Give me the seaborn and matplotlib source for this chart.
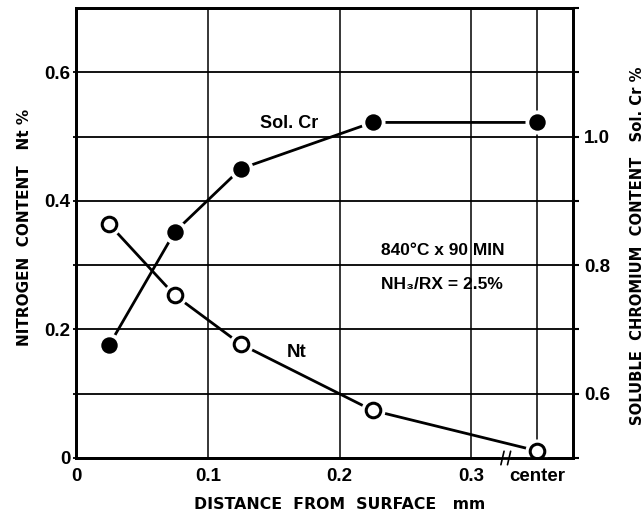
import matplotlib
matplotlib.use("Agg")
import matplotlib.pyplot as plt
import seaborn as sns
import pandas as pd

# ---- data ----
distance = [0.025, 0.075, 0.125, 0.225, 0.35]
nitrogen = [0.364, 0.253, 0.177, 0.074, 0.011]
sol_cr = [0.675, 0.852, 0.95, 1.022, 1.022]

x_ticks = [0, 0.1, 0.2, 0.3, 0.35]
x_tick_labels = ["0", "0.1", "0.2", "0.3", "center"]
x_minor = [0.05, 0.15, 0.25]
left_ticks = [0, 0.2, 0.4, 0.6]
left_tick_labels = ["0", "0.2", "0.4", "0.6"]
left_minor = [0.1, 0.3, 0.5]
right_ticks = [0.6, 0.8, 1.0]
right_tick_labels = ["0.6", "0.8", "1.0"]
right_minor = [0.5, 0.7, 0.9, 1.1, 1.2]

sns.set_style("white")
NARROW = ["Liberation Sans", "DejaVu Sans"]
WIDE = ["DejaVu Sans"]
plt.rcParams["font.family"] = NARROW
plt.rcParams["font.weight"] = "bold"
for k in ("text.color", "axes.labelcolor", "xtick.color", "ytick.color",
          "axes.edgecolor"):
    plt.rcParams[k] = "black"

df = pd.DataFrame({"distance": distance, "Nt": nitrogen, "Cr": sol_cr})

fig = plt.figure(figsize=(6.44, 5.15), dpi=100)
ax = fig.add_axes([76 / 644, 1 - 458 / 515, (573 - 76) / 644, (458 - 8) / 515])
ax2 = ax.twinx()

ax.set_xlim(0, 0.377)
ax.set_ylim(0, 0.7)
ax2.set_ylim(0.5, 1.2)

# grid
ax.set_xticks(x_ticks, x_tick_labels)
ax.set_xticks(x_minor, minor=True)
ax.set_yticks(left_ticks, left_tick_labels)
ax.set_yticks(left_minor, minor=True)
ax.grid(True, axis="y", which="both", color="black", lw=1.3)
ax.grid(True, axis="x", which="major", color="black", lw=1.1)
ax.set_axisbelow(True)

for a in (ax, ax2):
    for s in a.spines.values():
        s.set_linewidth(2.0)
        s.set_color("black")

ax.tick_params(axis="x", which="major", length=0, pad=7, labelsize=13.5)
ax.tick_params(axis="x", which="minor", direction="in", length=5, width=1.3)
ax.tick_params(axis="y", which="both", direction="out", length=2, width=1.3,
               labelsize=13.5, pad=2)
ax2.set_yticks(right_ticks, right_tick_labels)
ax2.set_yticks(right_minor, minor=True)
ax2.tick_params(axis="y", which="both", direction="out", length=4, width=1.5,
                labelsize=13.5, pad=4)

# Nitrogen (open circles) on left axis
sns.lineplot(data=df, x="distance", y="Nt", ax=ax, color="black", lw=2.0,
             sort=False, estimator=None, zorder=2)
sns.scatterplot(data=df, x="distance", y="Nt", ax=ax, s=300, color="white",
                edgecolor="white", linewidth=0, zorder=3)
sns.scatterplot(data=df, x="distance", y="Nt", ax=ax, s=110, color="white",
                edgecolor="black", linewidth=2.2, zorder=4)

# Soluble chromium (filled circles) on right axis
sns.lineplot(data=df, x="distance", y="Cr", ax=ax2, color="black", lw=2.0,
             sort=False, estimator=None, zorder=2)
sns.scatterplot(data=df, x="distance", y="Cr", ax=ax2, s=300, color="white",
                edgecolor="white", linewidth=0, zorder=3)
sns.scatterplot(data=df, x="distance", y="Cr", ax=ax2, s=140, color="black",
                edgecolor="black", linewidth=0, zorder=4)

# labels
ax.set_xlabel("DISTANCE  FROM  SURFACE   mm", family=WIDE, fontsize=11.3,
              fontweight="bold")
ax.xaxis.set_label_coords(0.531, -0.087)
ax.set_ylabel("NITROGEN  CONTENT   Nt %", family=WIDE, fontsize=11.0,
              fontweight="bold")
ax.yaxis.set_label_coords(-0.088, 0.513)
ax2.set_ylabel("SOLUBLE  CHROMIUM  CONTENT   Sol. Cr %", family=WIDE,
               fontsize=10.6, fontweight="bold")
ax2.yaxis.set_label_coords(1.114, 0.471)

# annotations
ax.text(0.162, 0.521, "Sol. Cr", fontsize=13, ha="center", va="center")
ax.text(0.1675, 0.164, "Nt", fontsize=13.5, ha="center", va="center")
ax.text(0.231, 0.3225, "840°C x 90 MIN", fontsize=12.5, ha="left", va="center")
ax.text(0.231, 0.270, "NH₃/RX = 2.5%", family=NARROW,
        fontsize=12.5, ha="left", va="center")

# axis break marks on the x axis
tr = ax.get_xaxis_transform()
ax.plot([0.3235, 0.3285], [0.0, 0.0], transform=tr, color="white", lw=3,
        clip_on=False, zorder=10)
for xb in (0.3235, 0.3285):
    ax.plot([xb - 0.0012, xb + 0.0012], [-0.015, 0.015], transform=tr,
            color="black", lw=1.2, clip_on=False, zorder=11)

fig.savefig("out.png", dpi=100)
